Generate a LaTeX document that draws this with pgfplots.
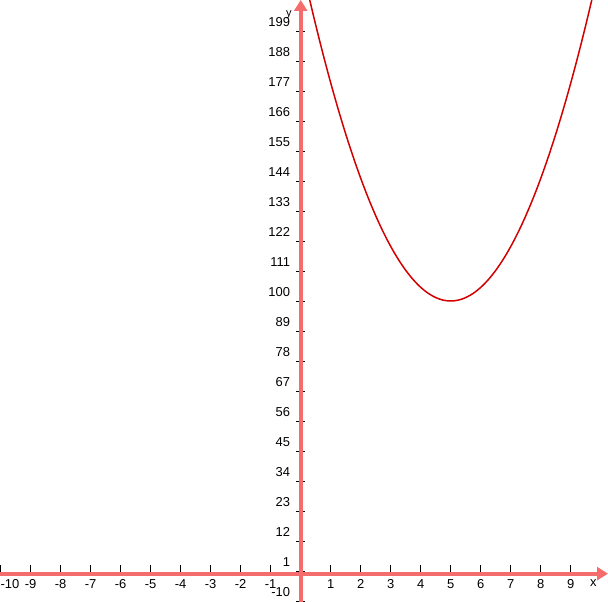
\documentclass[border=0pt]{standalone}
\usepackage{pgfplots}
\pgfplotsset{compat=1.18}
\usepackage{fontspec}
\setmainfont{Liberation Sans}
\usetikzlibrary{arrows.meta}
\definecolor{axpink}{RGB}{244,108,108}
\definecolor{curvered}{RGB}{210,0,0}
\begin{document}
\begin{tikzpicture}
\begin{axis}[
  at={(0,0)}, anchor=south west,
  scale only axis, width=608bp, height=602bp,
  xmin=-10.02, xmax=10.24, ymin=-10.4, ymax=210.4,
  axis lines=middle,
  axis line style={draw=axpink, line width=4bp, -{Triangle[length=11bp,width=13bp]}},
  xtick={-10,-9,...,9},
  xticklabels={\makebox[0pt][l]{-10},-9,-8,-7,-6,-5,-4,-3,-2,-1,0,1,2,3,4,5,6,7,8,9},
  ytick={-10,1,12,23,34,45,56,67,78,89,100,111,122,133,144,155,166,177,188,199},
  xtick align=inside, ytick align=center,
  major tick length=9bp,
  tick style={black, line width=0.8bp},
  /pgf/number format/assume math mode=true,
  tick label style={font=\fontsize{13}{15}\selectfont, inner sep=0pt},
  xticklabel style={anchor=north, yshift=-6bp},
  yticklabel style={anchor=south east, xshift=-6bp, yshift=4bp},
  xlabel={x}, ylabel={y},
  xlabel style={at={(axis description cs:0.976,0.0471)}, anchor=north, yshift=-6bp, inner sep=0pt, font=\fontsize{13}{15}\selectfont},
  ylabel style={at={(axis description cs:0.475,0.975)}, anchor=center, rotate=0, inner sep=0pt, font=\fontsize{11}{13}\selectfont},
  clip=true,
]
\addplot[curvered, line width=1.5bp, smooth] coordinates {
(0,225) (0.25,212.8125) (0.5,201.25) (0.75,190.3125) (1,180) (1.25,170.3125) (1.5,161.25) (1.75,152.8125)
(2,145) (2.25,137.8125) (2.5,131.25) (2.75,125.3125) (3,120) (3.25,115.3125) (3.5,111.25) (3.75,107.8125)
(4,105) (4.25,102.8125) (4.5,101.25) (4.75,100.3125) (5,100) (5.25,100.3125) (5.5,101.25) (5.75,102.8125)
(6,105) (6.25,107.8125) (6.5,111.25) (6.75,115.3125) (7,120) (7.25,125.3125) (7.5,131.25) (7.75,137.8125)
(8,145) (8.25,152.8125) (8.5,161.25) (8.75,170.3125) (9,180) (9.25,190.3125) (9.5,201.25) (9.75,212.8125) (10,225)
};
\end{axis}
\pgfresetboundingbox
\path (0,0) rectangle (608bp,602bp);
\end{tikzpicture}
\end{document}
